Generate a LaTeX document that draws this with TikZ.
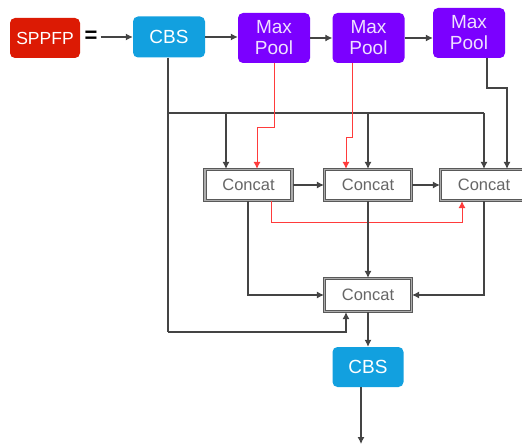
\documentclass[tikz,border=0pt]{standalone}
\usepackage{fontspec}
\setmainfont{Liberation Sans}
\usetikzlibrary{arrows.meta,calc}
\definecolor{sppfred}{HTML}{DC1A04}
\definecolor{cbsblue}{HTML}{12A0DF}
\definecolor{poolpurple}{HTML}{7B00FF}
\definecolor{linegray}{HTML}{444444}
\definecolor{redline}{HTML}{FF3B3B}
\tikzset{
  block/.style={rounded corners=5pt, inner sep=0pt, align=center, text=white},
  sppfbox/.style={block, fill=sppfred, minimum width=70pt, minimum height=40pt, font=\fontsize{17.5}{20}\selectfont},
  cbsbox/.style={block, fill=cbsblue, minimum width=72pt, minimum height=41pt, font=\fontsize{19}{22}\selectfont},
  poolbox/.style={block, fill=poolpurple, text=white!88!poolpurple, minimum width=72pt, minimum height=50pt, font=\fontsize{19}{21}\selectfont},
  catbox/.style={draw=gray!70!black, double=gray!65, double distance=1.2pt, line width=1.2pt, fill=white,
    inner sep=0pt, minimum width=87pt, minimum height=31pt, text=gray!80!black, font=\fontsize{16.5}{18}\selectfont},
  link/.style={draw=linegray, line width=1.1pt, -{Latex[length=7pt,width=7pt]}},
  bus/.style={draw=linegray, line width=1.1pt},
  redlink/.style={draw=redline, line width=0.9pt, -{Latex[length=7pt,width=7pt]}},
}
\begin{document}
\begin{tikzpicture}[x=1pt,y=-1pt]
\useasboundingbox (0,0) rectangle (522,444);
% blocks
\node[sppfbox] (sppfp) at (45,38) {SPPFP};
\node[font=\bfseries\fontsize{22}{22}\selectfont, inner sep=0pt] (eq) at (91,37) {=};
\node[cbsbox] (cbs1) at (169,37) {CBS};
\node[poolbox] (mp1) at (274,38) {Max\\Pool};
\node[poolbox] (mp2) at (368.5,38) {Max\\Pool};
\node[poolbox] (mp3) at (469,33) {Max\\Pool};
\node[catbox] (c1) at (248.5,185) {Concat};
\node[catbox] (c2) at (368,185) {Concat};
\node[catbox] (c3) at (484,185) {Concat};
\node[catbox, minimum height=33pt] (c4) at (368,295) {Concat};
\node[cbsbox, minimum width=71pt, minimum height=40pt] (cbs2) at (368,367) {CBS};
\coordinate (out) at (361,444);
% junction points of the branch lines
\coordinate (busL) at (168,113);
\coordinate (busR) at (484,113);
\coordinate (busLow) at (168,332);
% main chain
\draw[link] ($(eq.east)+(3,0)$) -- (cbs1.west);
\draw[link] (cbs1.east) -- (mp1.west |- cbs1.east);
\draw[link] (mp1.east) -- (mp2.west);
\draw[link] (mp2.east) -- (mp2.east -| mp3.west);
% branch line from the first CBS
\draw[bus] (cbs1.south -| busL) -- (busLow);
\draw[bus] (busL) -- (busR);
\draw[link] (226,113) -- (226,0 |- c1.north);
\draw[link] (368,113) -- (c2.north);
\draw[link] (busR) -- (c3.north);
% pooled features into the concat blocks
\draw[redlink] (mp1.south) -- (274,127) -- (257,127) -- (257,0 |- c1.north);
\draw[redlink] (352,0 |- mp2.south) -- (352,137) -- (346,137) -- (346,0 |- c2.north);
\draw[link] (487,0 |- mp3.south) -- (487,88) -- (507,88) -- (507,0 |- c3.north);
% concat chain
\draw[link] (c1.east) -- (c2.west);
\draw[link] (c2.east) -- (c3.west);
\draw[redlink] (271,0 |- c1.south) -- (271,222) -- (462,222) -- (462,0 |- c3.south);
% final fusion
\draw[link] (248,0 |- c1.south) |- (c4.west);
\draw[link] (c2.south) -- (c4.north);
\draw[link] (c3.south) |- (c4.east);
\draw[link] (busLow) -| (346,0 |- c4.south);
\draw[link] (c4.south) -- (cbs2.north);
\draw[link] (cbs2.south -| out) -- (out);
\end{tikzpicture}
\end{document}
